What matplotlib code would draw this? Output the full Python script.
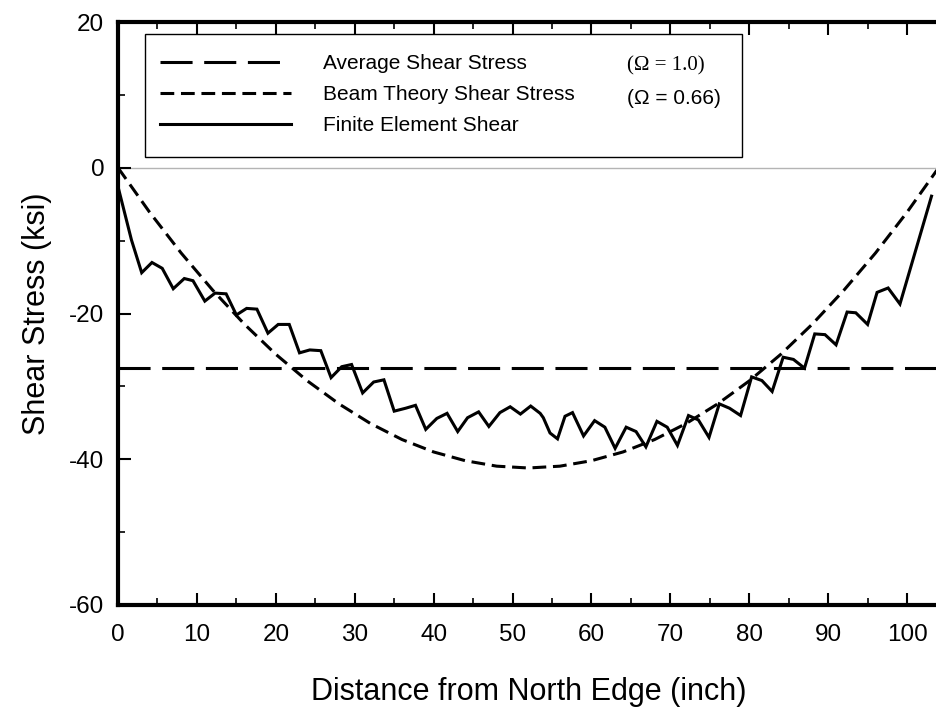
import numpy as np
import matplotlib
matplotlib.use("Agg")
import matplotlib.pyplot as plt
from matplotlib.patches import Rectangle
from matplotlib.ticker import MultipleLocator

# finite element shear along the section (inch, ksi)
distance_fe = [0.0, 1.7, 3.0, 4.3, 5.6, 7.0, 8.4, 9.5, 11.0, 12.3, 13.7, 15.0, 16.3, 17.6,
               19.0, 20.3, 21.7, 23.0, 24.3, 25.7, 27.0, 28.35, 29.6, 31.0, 32.4, 33.7,
               35.0, 36.45, 37.7, 39.0, 40.4, 41.7, 43.05, 44.3, 45.7, 47.0, 48.4, 49.7,
               51.0, 52.3, 53.5, 53.9, 54.75, 55.7, 56.65, 57.6, 59.0, 60.4, 61.7, 63.0,
               64.4, 65.65, 66.9, 68.3, 69.6, 70.9, 72.3, 73.55, 74.9, 76.2, 77.5, 78.9,
               80.3, 81.6, 82.9, 84.3, 85.6, 87.0, 88.3, 89.6, 91.0, 92.4, 93.5, 95.0,
               96.2, 97.6, 99.1, 103.1]
shear_fe = [-2.6, -9.9, -14.4, -13.0, -13.8, -16.6, -15.2, -15.5, -18.3, -17.2, -17.3, -20.2,
            -19.3, -19.4, -22.7, -21.5, -21.5, -25.4, -25.0, -25.1, -28.8, -27.3, -27.0,
            -30.9, -29.4, -29.1, -33.4, -33.0, -32.6, -35.9, -34.4, -33.7, -36.2, -34.3,
            -33.5, -35.5, -33.6, -32.8, -33.8, -32.7, -33.7, -34.3, -36.4, -37.2, -34.1,
            -33.6, -36.8, -34.7, -35.6, -38.5, -35.6, -36.2, -38.3, -34.8, -35.6, -38.1,
            -34.0, -34.6, -37.0, -32.4, -33.0, -34.0, -28.7, -29.2, -30.7, -26.0, -26.3,
            -27.5, -22.8, -22.9, -24.3, -19.8, -19.9, -21.5, -17.1, -16.5, -18.7, -3.9]

# beam theory distribution
distance_beam = [0, 4, 8, 12, 16, 20, 24, 28, 32, 36, 40, 44, 48, 52,
                 56, 60, 64, 68, 72, 76, 80, 84, 88, 92, 96, 100, 104]
shear_beam = [0.0, -6.1, -11.7, -16.8, -21.45, -25.6, -29.25, -32.4, -35.1, -37.3, -39.0,
              -40.2, -40.95, -41.2, -40.95, -40.2, -39.0, -37.3, -35.1, -32.4, -29.25,
              -25.6, -21.45, -16.8, -11.7, -6.1, 0.0]

# average shear
distance_avg = [0, 104]
shear_avg = [-27.5, -27.5]

plt.rcParams["font.family"] = ["Liberation Sans", "DejaVu Sans"]
plt.rcParams["axes.unicode_minus"] = False

fig = plt.figure(figsize=(9.36, 7.10), dpi=100)
ax = fig.add_axes([0.1261, 0.1479, 0.8767, 0.8211])

ax.axhline(0, color="#b4b4b4", lw=1.0, zorder=1)
avg_line, = ax.plot(distance_avg, shear_avg, color="black", lw=2.2,
                    dashes=(10.5, 3.8), label="Average Shear Stress")
beam_line, = ax.plot(distance_beam, shear_beam, color="black", lw=2.2,
                     dashes=(4.5, 2.2), label="Beam Theory Shear Stress")
fe_line, = ax.plot(distance_fe, shear_fe, color="black", lw=2.2,
                   solid_joinstyle="miter", label="Finite Element Shear")

ax.set_xlim(0, 104)
ax.set_ylim(-60, 20)
ax.xaxis.set_major_locator(MultipleLocator(10))
ax.xaxis.set_minor_locator(MultipleLocator(5))
ax.yaxis.set_major_locator(MultipleLocator(20))
ax.yaxis.set_minor_locator(MultipleLocator(10))
ax.tick_params(which="both", direction="in", top=True, right=False, labelsize=17.5)
ax.tick_params(which="major", length=9, width=1.5)
ax.tick_params(which="minor", length=5, width=1.2)
ax.tick_params(axis="x", pad=14)
ax.tick_params(axis="y", pad=10)
for side in ["left", "bottom", "top", "right"]:
    ax.spines[side].set_linewidth(3)

ax.set_xlabel("Distance from North Edge (inch)", fontsize=22, labelpad=22)
ax.set_ylabel("Shear Stress (ksi)", fontsize=22, labelpad=12)

# legend box with the omega factors beside the first two entries
ax.add_patch(Rectangle((0.0329, 0.7684), 0.727, 0.2110, transform=ax.transAxes,
                       facecolor="white", edgecolor="black", lw=1.0, zorder=4))
leg = ax.legend(handles=[avg_line, beam_line, fe_line], loc="upper left",
                bbox_to_anchor=(0.0512, 0.945), frameon=False, fontsize=15,
                handlelength=6.3, handletextpad=1.5, labelspacing=0.58,
                borderpad=0, borderaxespad=0)
leg.set_zorder(5)
ax.text(0.620, 0.925, "(Ω = 1.0)", transform=ax.transAxes, fontsize=15,
        family="Liberation Serif", va="center", zorder=6)
ax.text(0.620, 0.868, "(Ω = 0.66)", transform=ax.transAxes, fontsize=15,
        va="center", zorder=6)

fig.savefig("out.png", dpi=100)
